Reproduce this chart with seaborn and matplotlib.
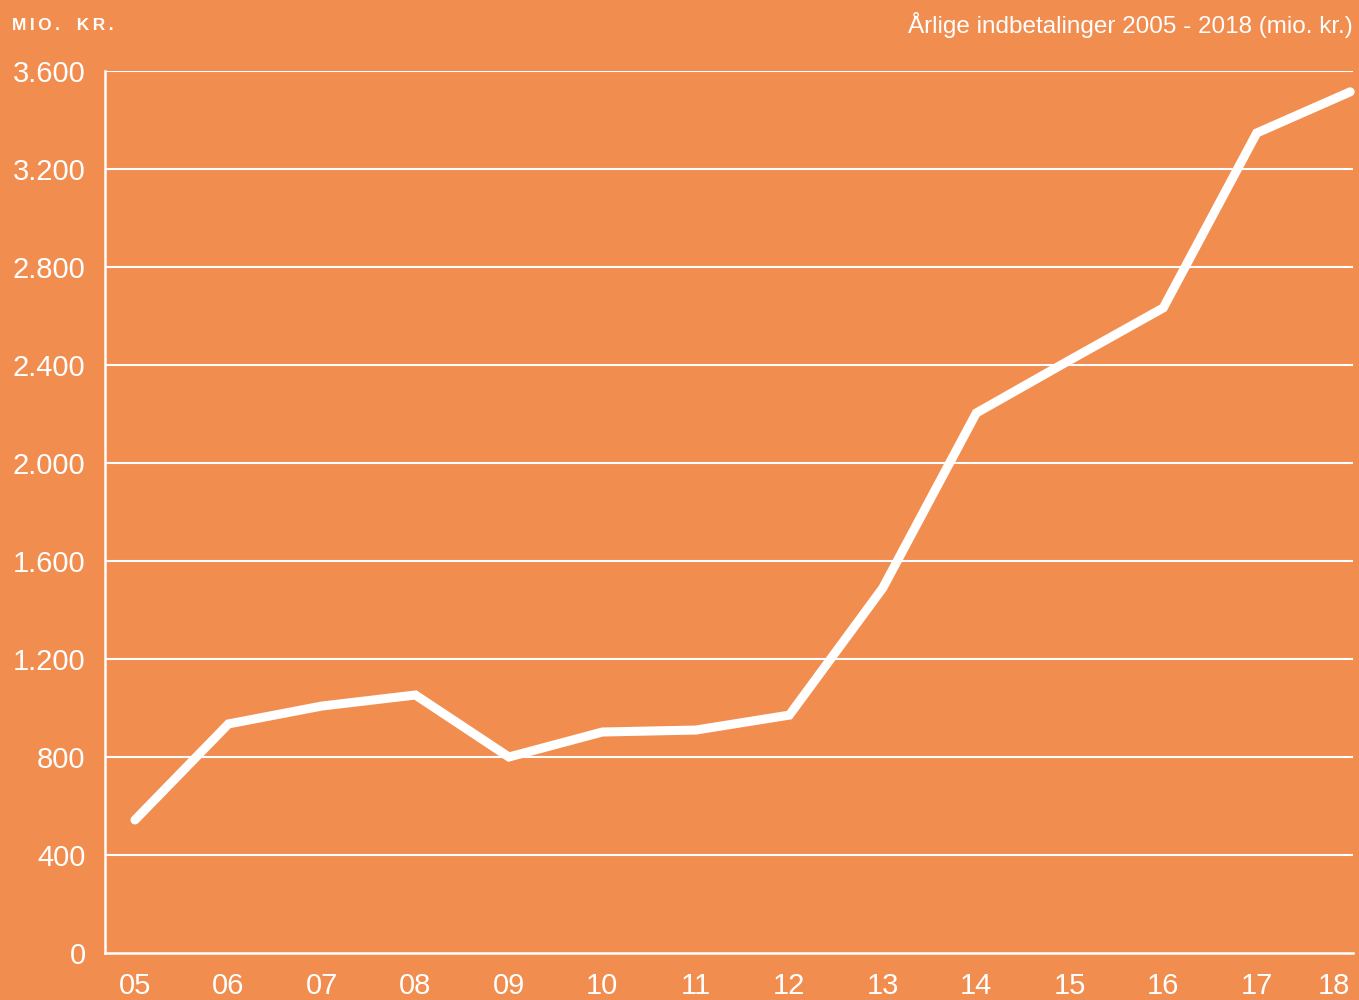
import matplotlib
matplotlib.use('Agg')
import matplotlib.pyplot as plt
import seaborn as sns
import pandas as pd

# yearly payments (mio. kr.)
years = [5, 6, 7, 8, 9, 10, 11, 12, 13, 14, 15, 16, 17, 18]
year_labels = ['05', '06', '07', '08', '09', '10', '11', '12', '13', '14', '15', '16', '17', '18']
payments = [543, 935, 1008, 1053, 800, 902, 910, 971, 1490, 2204, 2420, 2633, 3347, 3515]
y_ticks = [0, 400, 800, 1200, 1600, 2000, 2400, 2800, 3200, 3600]
y_labels = ['0', '400', '800', '1.200', '1.600', '2.000', '2.400', '2.800', '3.200', '3.600']

orange = '#F28D50'

sns.set_theme(style='white')
plt.rcParams['font.family'] = ['Liberation Sans', 'DejaVu Sans']

df = pd.DataFrame({'year': years, 'payment': payments})

fig = plt.figure(figsize=(13.59, 10), dpi=100, facecolor=orange)
ax = fig.add_axes([0.0773, 0.047, 0.9183, 0.882])
ax.set_facecolor(orange)

# white grid lines
for t in y_ticks[1:]:
    ax.axhline(t, color='white', linewidth=1.5, zorder=1)

sns.lineplot(data=df, x='year', y='payment', color='white', linewidth=6.5,
             solid_capstyle='round', solid_joinstyle='miter', ax=ax, zorder=3, clip_on=False)

ax.set_xlim(4.68, 18.03)
ax.set_ylim(0, 3600)
ax.set_xticks(years)
ax.set_xticklabels(year_labels)
ax.set_yticks(y_ticks)
ax.set_yticklabels(y_labels)
ax.tick_params(axis='both', colors='white', labelsize=21, length=0)
ax.tick_params(axis='y', pad=14)
ax.tick_params(axis='x', pad=14)
ax.set_xlabel('')
ax.set_ylabel('')
# last year label sits inside the figure edge
ax.get_xticklabels()[-1].set_horizontalalignment('right')

for side in ['top', 'right']:
    ax.spines[side].set_visible(False)
for side in ['left', 'bottom']:
    ax.spines[side].set_color('white')
    ax.spines[side].set_linewidth(1.8)

# letter-spaced unit label (thin spaces between letters)
unit = '\u2009'.join('MIO.') + '\u2009  \u2009' + '\u2009'.join('KR.')
fig.text(12 / 1359, 1 - 25 / 1000, unit, color='white', fontsize=12.5,
         fontweight='bold', ha='left', va='center')
fig.text(1353 / 1359, 1 - 25 / 1000, 'Årlige indbetalinger 2005 - 2018 (mio. kr.)',
         color='white', fontsize=17.5, ha='right', va='center')

fig.savefig('out.png', dpi=100, facecolor=orange)
